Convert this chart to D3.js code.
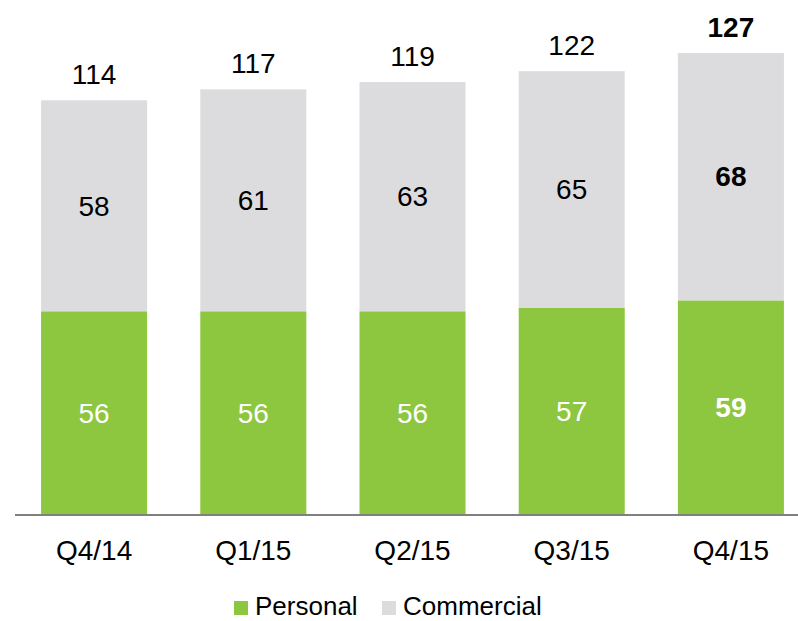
<!DOCTYPE html>
<html>
<head>
<meta charset="utf-8">
<script src="https://cdn.jsdelivr.net/npm/d3@7"></script>
<style>
  body { margin: 0; background: #fff; }
  text { font-family: 'Liberation Sans', Arial, sans-serif; }
</style>
</head>
<body>
<script>
var quarters = ['Q4/14', 'Q1/15', 'Q2/15', 'Q3/15', 'Q4/15'];
var personal = [56, 56, 56, 57, 59];
var commercial = [58, 61, 63, 65, 68];
var totals = [114, 117, 119, 122, 127];
var boldIndex = 4;

var svgWidth = 798;
var svgHeight = 621;
var green = '#8dc63f';
var grey = '#dcdcde';
var fontSize = 28;

var svg = d3.select('body')
    .append('svg')
    .attr('width', svgWidth)
    .attr('height', svgHeight);

var x = d3.scaleBand()
    .domain(quarters)
    .range([14.5, 810.5])
    .paddingInner(0.334)
    .paddingOuter(0.167);

var y = d3.scaleLinear()
    .domain([0, 127])
    .range([515, 53]);

var data = quarters.map(function (q, i) {
    return {q: q, p: personal[i], c: commercial[i], t: totals[i], i: i};
});

// personal (bottom)
svg.selectAll('rect.personal')
    .data(data)
    .enter()
    .append('rect')
    .attr('class', 'personal')
    .attr('x', function (d) { return x(d.q); })
    .attr('width', x.bandwidth())
    .attr('y', function (d) { return y(d.p); })
    .attr('height', function (d) { return y(0) - y(d.p); })
    .attr('fill', green);

// commercial (top)
svg.selectAll('rect.commercial')
    .data(data)
    .enter()
    .append('rect')
    .attr('class', 'commercial')
    .attr('x', function (d) { return x(d.q); })
    .attr('width', x.bandwidth())
    .attr('y', function (d) { return y(d.p + d.c); })
    .attr('height', function (d) { return y(d.p) - y(d.p + d.c); })
    .attr('fill', grey);

function weight(d) {
    return d.i === boldIndex ? 'bold' : 'normal';
}

svg.selectAll('text.plabel')
    .data(data)
    .enter()
    .append('text')
    .attr('x', function (d) { return x(d.q) + x.bandwidth() / 2; })
    .attr('y', function (d) { return (y(0) + y(d.p)) / 2; })
    .attr('dy', '0.35em')
    .attr('text-anchor', 'middle')
    .attr('font-size', fontSize)
    .attr('font-weight', weight)
    .attr('fill', '#fff')
    .text(function (d) { return d.p; });

svg.selectAll('text.clabel')
    .data(data)
    .enter()
    .append('text')
    .attr('x', function (d) { return x(d.q) + x.bandwidth() / 2; })
    .attr('y', function (d) { return (y(d.p) + y(d.p + d.c)) / 2; })
    .attr('dy', '0.35em')
    .attr('text-anchor', 'middle')
    .attr('font-size', fontSize)
    .attr('font-weight', weight)
    .attr('fill', '#000')
    .text(function (d) { return d.c; });

svg.selectAll('text.tlabel')
    .data(data)
    .enter()
    .append('text')
    .attr('x', function (d) { return x(d.q) + x.bandwidth() / 2; })
    .attr('y', function (d) { return y(d.t) - 16; })
    .attr('text-anchor', 'middle')
    .attr('font-size', fontSize)
    .attr('font-weight', weight)
    .attr('fill', '#000')
    .text(function (d) { return d.t; });

// x axis
var xAxis = svg.append('g')
    .attr('transform', 'translate(0,' + y(0) + ')')
    .call(d3.axisBottom(x).tickSize(0).tickPadding(0));
xAxis.select('.domain').remove();
xAxis.append('line')
    .attr('x1', 15)
    .attr('x2', svgWidth)
    .attr('stroke', '#808080')
    .attr('stroke-width', 2);
xAxis.selectAll('.tick text')
    .attr('dy', 0)
    .attr('y', 45)
    .attr('font-size', fontSize)
    .attr('font-family', "'Liberation Sans', Arial, sans-serif")
    .attr('fill', '#000');

// legend
var legendItems = [
    {name: 'Personal', color: green, x: 234},
    {name: 'Commercial', color: grey, x: 382}
];
var legend = svg.append('g');
legend.selectAll('rect')
    .data(legendItems)
    .enter()
    .append('rect')
    .attr('x', function (d) { return d.x; })
    .attr('y', 601)
    .attr('width', 14)
    .attr('height', 14)
    .attr('fill', function (d) { return d.color; });
legend.selectAll('text')
    .data(legendItems)
    .enter()
    .append('text')
    .attr('x', function (d) { return d.x + 21; })
    .attr('y', 615)
    .attr('font-size', 26)
    .attr('fill', '#000')
    .text(function (d) { return d.name; });
</script>
</body>
</html>
